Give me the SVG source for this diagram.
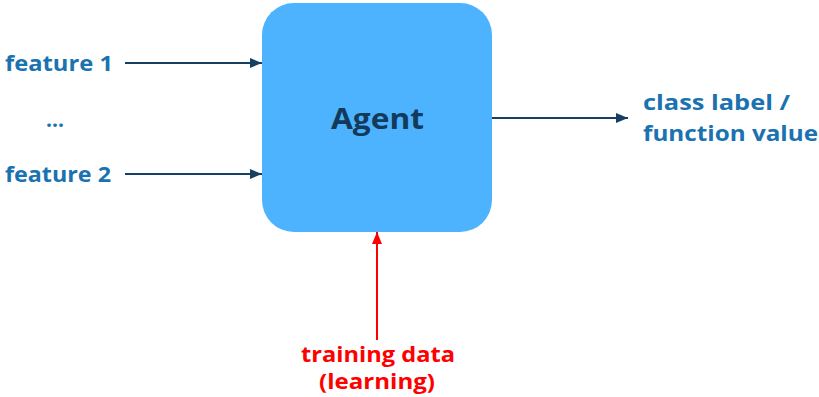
<svg xmlns="http://www.w3.org/2000/svg" width="819" height="397" viewBox="0 0 819 397">
<style>
.lbl{font-family:"Open Sans","Liberation Sans",sans-serif;font-weight:bold;font-size:21px;fill:#1a72b0}
.red{font-family:"Open Sans","Liberation Sans",sans-serif;font-weight:bold;font-size:21px;fill:#ff0000}
.edge{stroke:#163f63;stroke-width:2;fill:none}
</style>
<defs>
<marker id="ah" viewBox="0 0 12 10" refX="12" refY="5" markerWidth="12" markerHeight="10" markerUnits="userSpaceOnUse" orient="auto"><path d="M0,0 L12,5 L0,10 z" fill="#163f63"/></marker>
<marker id="ahr" viewBox="0 0 12 10" refX="12" refY="5" markerWidth="12" markerHeight="10" markerUnits="userSpaceOnUse" orient="auto"><path d="M0,0 L12,5 L0,10 z" fill="#ff0000"/></marker>
</defs>
<rect width="819" height="397" fill="#ffffff"/>
<g id="agent">
<rect x="262" y="3" width="230" height="229" rx="32" fill="#4db3ff"/>
<text x="331" y="129" textLength="93" lengthAdjust="spacingAndGlyphs" font-family="'Open Sans','Liberation Sans',sans-serif" font-weight="bold" font-size="28" fill="#123a5a">Agent</text>
</g>
<g id="feature1"><text class="lbl" x="5" y="71" textLength="108" lengthAdjust="spacingAndGlyphs">feature 1</text></g>
<g id="dots"><text class="lbl" x="46" y="127">...</text></g>
<g id="feature2"><text class="lbl" x="5" y="182" textLength="106" lengthAdjust="spacingAndGlyphs">feature 2</text></g>
<g id="output"><text class="lbl" x="643" y="110" textLength="147" lengthAdjust="spacingAndGlyphs">class label /</text><text class="lbl" x="643" y="141" textLength="175" lengthAdjust="spacingAndGlyphs">function value</text></g>
<g id="training"><text class="red" x="301" y="362" textLength="154" lengthAdjust="spacingAndGlyphs">training data</text><text class="red" x="319" y="389" textLength="116" lengthAdjust="spacingAndGlyphs">(learning)</text></g>
<g id="connectors">
<line class="edge" x1="125" y1="63" x2="262" y2="63" marker-end="url(#ah)"/>
<line class="edge" x1="125" y1="174" x2="262" y2="174" marker-end="url(#ah)"/>
<line class="edge" x1="492" y1="118" x2="628" y2="118" marker-end="url(#ah)"/>
<line x1="377" y1="340" x2="377" y2="232" stroke="#ff0000" stroke-width="2" marker-end="url(#ahr)"/>
</g>
</svg>
